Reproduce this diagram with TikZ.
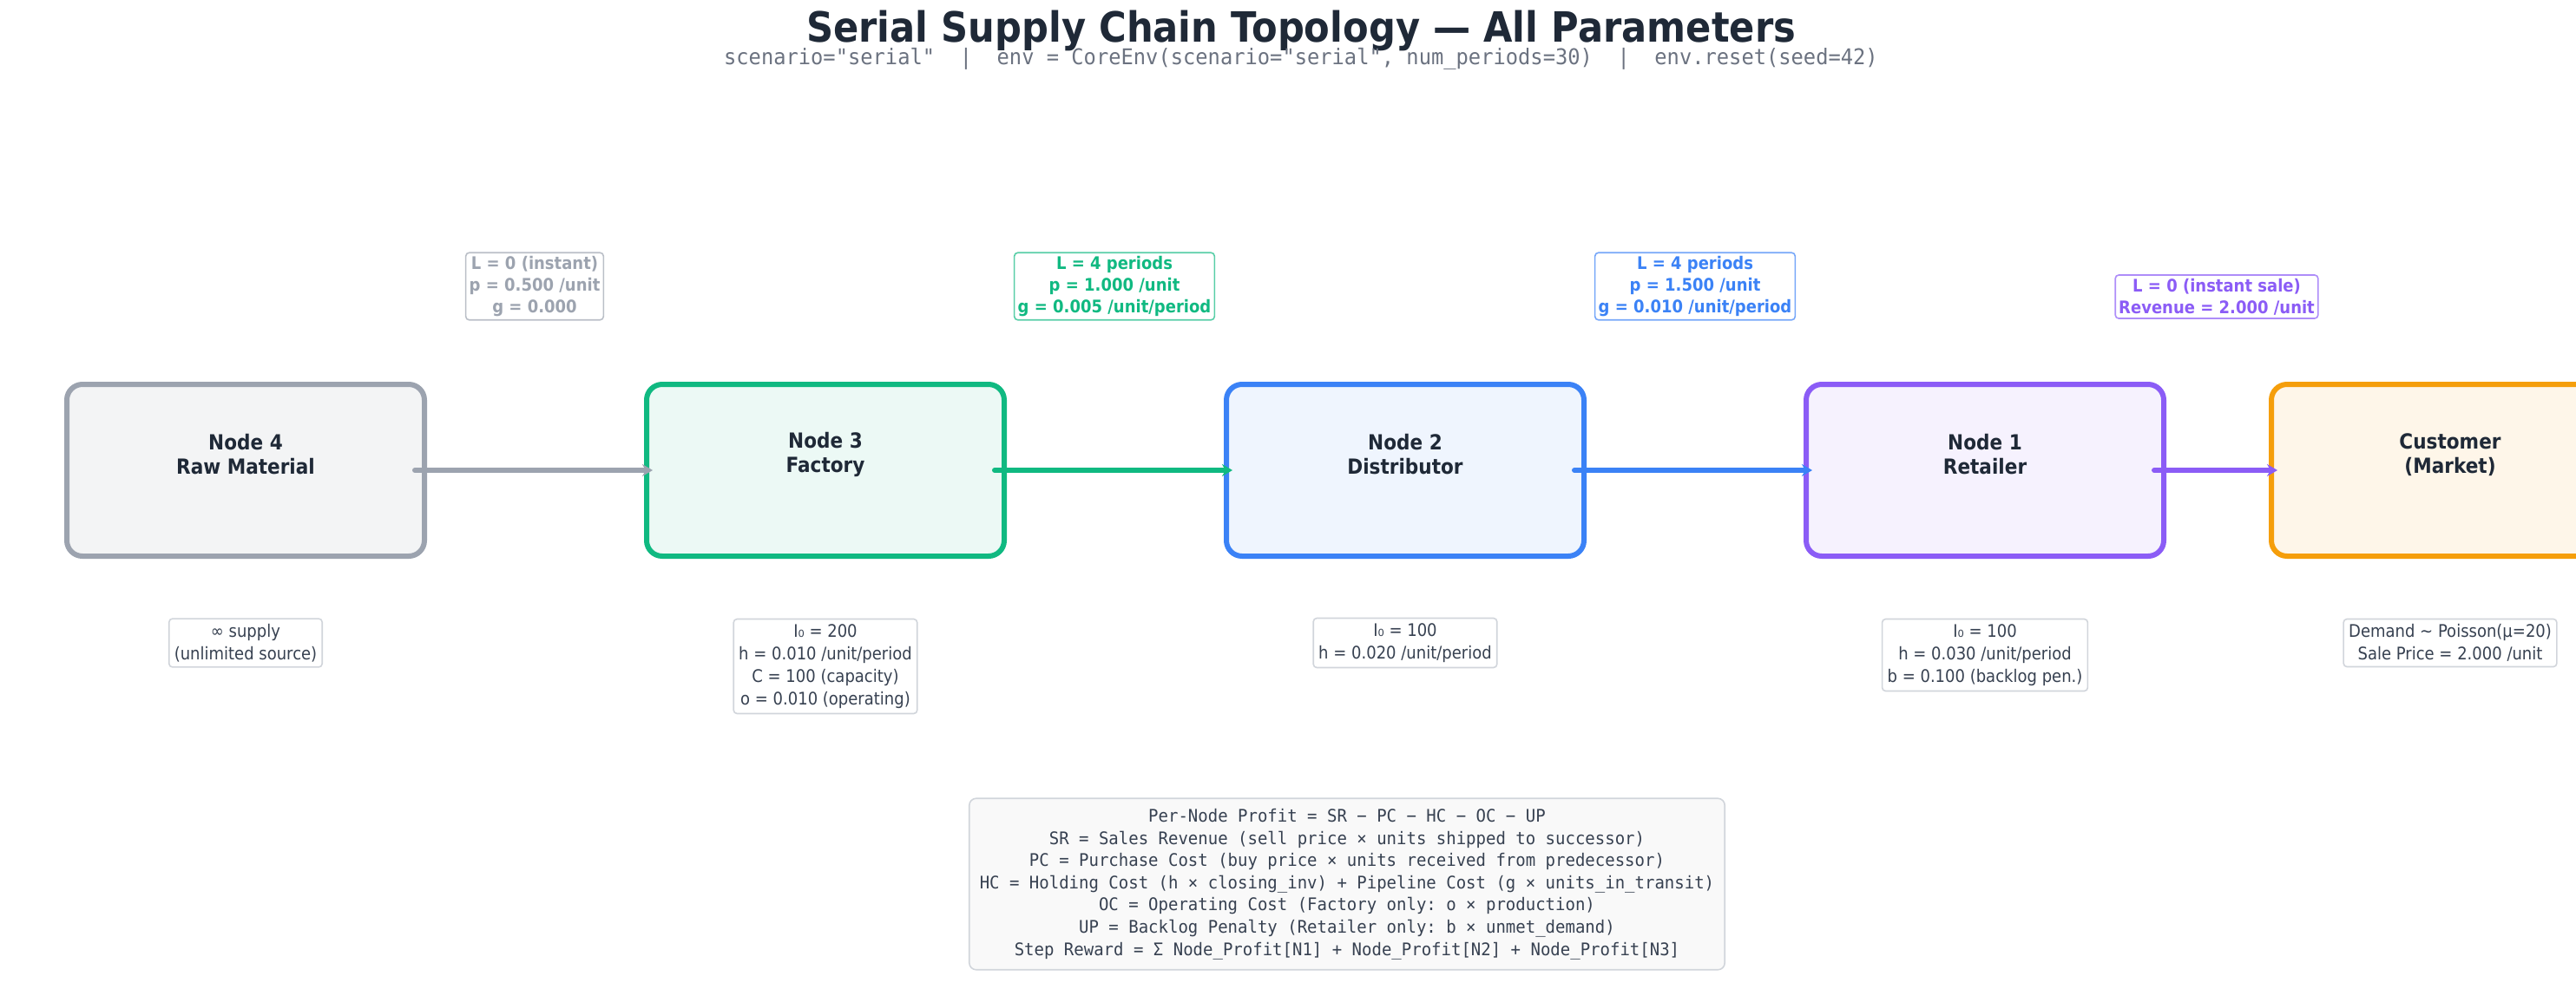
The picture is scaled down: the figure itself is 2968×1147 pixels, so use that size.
\documentclass[tikz,border=0pt]{standalone}
\usepackage{fontspec}
\setmainfont[FakeStretch=0.9]{DejaVu Sans}
\setmonofont[FakeStretch=0.95]{DejaVu Sans Mono}
\usepackage{tikz}
\usetikzlibrary{positioning,arrows.meta,shapes}
\definecolor{ink}{HTML}{1F2937}
\definecolor{sub}{HTML}{6B7280}
\definecolor{lbl}{HTML}{374151}
\definecolor{rim}{HTML}{D1D5DB}
\definecolor{cgray}{HTML}{9CA3AF}
\definecolor{cgreen}{HTML}{10B981}
\definecolor{cblue}{HTML}{3B82F6}
\definecolor{cpurple}{HTML}{8B5CF6}
\definecolor{corange}{HTML}{F59E0B}
\begin{document}
\begin{tikzpicture}
 		[x=0.5pt, y=-0.5pt,
 		stage/.style={rectangle, rounded corners=9pt, line width=3pt,
 			minimum width=206pt, minimum height=99pt},
 		stagetxt/.style={font=\bfseries\fontsize{12}{14}\selectfont, text=ink, align=center},
 		link/.style={rectangle, rounded corners=2pt, draw=#1!70, fill=white, line width=0.8pt,
 			text=#1, font=\bfseries\fontsize{10}{12.5}\selectfont, align=center, inner sep=2pt},
 		param/.style={rectangle, rounded corners=2pt, draw=rim, fill=white, line width=0.8pt,
 			text=lbl, font=\fontsize{10}{13}\selectfont, align=center, inner sep=3pt},
 		flow/.style={draw=#1, line width=3pt, line cap=round, -{Stealth[length=6pt,width=7pt]}},
 		]
 		\useasboundingbox (0,0) rectangle (2968,1147);
 		% title
 		\node[font=\bfseries\fontsize{24}{28}\selectfont, text=ink] (title) at (1499,35)
 			{Serial Supply Chain Topology — All Parameters};
 		\node[font=\ttfamily\fontsize{12.5}{14}\selectfont, text=sub] (subtitle) at (1499,68)
 			{scenario="serial"~~|~~env = CoreEnv(scenario="serial", num\_periods=30)~~|~~env.reset(seed=42)};
 		
 		% stages
 		\node[stage, draw=cgray, fill=cgray!12] (n4) at (283,542) {};
 		\node[stage, draw=cgreen, fill=cgreen!8] (n3) at (951,542) {};
 		\node[stage, draw=cblue, fill=cblue!8] (n2) at (1619,542) {};
 		\node[stage, draw=cpurple, fill=cpurple!8] (n1) at (2287,542) {};
 		\node[stage, draw=corange, fill=corange!9] (cust) at (2823,542) {};
 		\node[stagetxt] (n4t) at (283,524) {Node 4\\Raw Material};
 		\node[stagetxt] (n3t) at (951,524) {Node 3\\Factory};
 		\node[stagetxt] (n2t) at (1619,524) {Node 2\\Distributor};
 		\node[stagetxt] (n1t) at (2287,524) {Node 1\\Retailer};
 		\node[stagetxt] (custt) at (2823,524) {Customer\\(Market)};
 		
 		% flows
 		\draw[flow=cgray] ([xshift=-7pt]n4.east) -- ([xshift=5pt]n3.west);
 		\draw[flow=cgreen] ([xshift=-7pt]n3.east) -- ([xshift=5pt]n2.west);
 		\draw[flow=cblue] ([xshift=-7pt]n2.east) -- ([xshift=5pt]n1.west);
 		\draw[flow=cpurple] ([xshift=-7pt]n1.east) -- ([xshift=5pt]cust.west);
 		
 		% link parameters
 		\node[link=cgray] (l43) at (616,330) {L = 0 (instant)\\p = 0.500 /unit\\g = 0.000};
 		\node[link=cgreen] (l32) at (1284,330) {L = 4 periods\\p = 1.000 /unit\\g = 0.005 /unit/period};
 		\node[link=cblue] (l21) at (1953,330) {L = 4 periods\\p = 1.500 /unit\\g = 0.010 /unit/period};
 		\node[link=cpurple] (l1c) at (2554,342) {L = 0 (instant sale)\\Revenue = 2.000 /unit};
 		
 		% node parameters
 		\node[param] (p4) at (283,741) {∞ supply\\(unlimited source)};
 		\node[param] (p3) at (951,768) {I₀ = 200\\h = 0.010 /unit/period\\C = 100 (capacity)\\o = 0.010 (operating)};
 		\node[param] (p2) at (1619,741) {I₀ = 100\\h = 0.020 /unit/period};
 		\node[param] (p1) at (2287,755) {I₀ = 100\\h = 0.030 /unit/period\\b = 0.100 (backlog pen.)};
 		\node[param] (pc) at (2823,741) {Demand \textasciitilde{} Poisson(μ=20)\\Sale Price = 2.000 /unit};
 		
 		% profit definitions
 		\node[param, fill=gray!5, rounded corners=4pt, inner sep=6pt,
 			font=\ttfamily\fontsize{10}{12.8}\selectfont] (profit) at (1552,1019)
 			{Per-Node Profit = SR − PC − HC − OC − UP\\
 			SR = Sales Revenue (sell price × units shipped to successor)\\
 			PC = Purchase Cost (buy price × units received from predecessor)\\
 			HC = Holding Cost (h × closing\_inv) + Pipeline Cost (g × units\_in\_transit)\\
 			OC = Operating Cost (Factory only: o × production)\\
 			UP = Backlog Penalty (Retailer only: b × unmet\_demand)\\
 			Step Reward = Σ Node\_Profit[N1] + Node\_Profit[N2] + Node\_Profit[N3]};
 	\end{tikzpicture}
\end{document}
